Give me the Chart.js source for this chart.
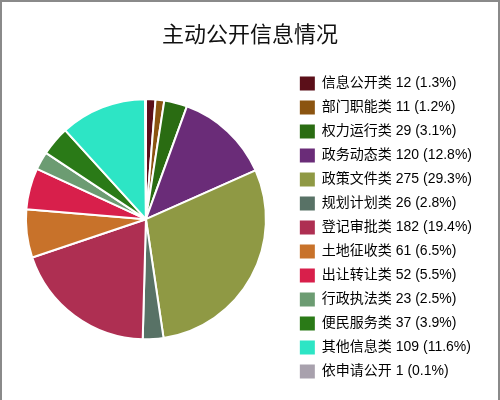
<!DOCTYPE html>
<html>
<head>
<meta charset="utf-8">
<script src="https://cdn.jsdelivr.net/npm/chart.js@4"></script>
<style>
 body { margin: 0; background: #fff; }
 .box { width: 500px; height: 400px; box-sizing: border-box; border: 2px solid #8a8a8a; border-bottom: none; }
 .box canvas { display: block; }
</style>
</head>
<body>
<div class="box"><canvas id="myChart" width="496" height="398"></canvas></div>
<script>
'use strict';

var categories = ["信息公开类", "部门职能类", "权力运行类", "政务动态类", "政策文件类", "规划计划类", "登记审批类",
 "土地征收类", "出让转让类", "行政执法类", "便民服务类", "其他信息类", "依申请公开"];
var values = [12, 11, 29, 120, 275, 26, 182, 61, 52, 23, 37, 109, 1];
var colors = ["#5b0f19", "#8b5410", "#2a6c12", "#6a2c78", "#8f9944", "#587266", "#ae2f52",
 "#c8722a", "#d81f4b", "#6c9c72", "#2a7a17", "#2de5c5", "#a8a1ad"];

(function () {
 var ctx = document.getElementById("myChart");
 var total = values.reduce(function (a, b) { return a + b; }, 0);
 var font = 'Arial, "Liberation Sans", "Noto Sans CJK SC", sans-serif';

 // one column only, empty room right of the legend (title stays centred), legend nudged down
 var legendSpace = {
  id: 'legendSpace',
  beforeLayout: function (chart) {
   var lg = chart.legend;
   if (lg && !lg._patched) {
    var fit = lg.fit;
    lg.fit = function () {
     this.maxHeight += 30;
     fit.call(this);
     this.maxHeight -= 30;
     this.width += 16;
    };
    lg._patched = true;
   }
  },
  afterLayout: function (chart) {
   chart.legend.top += 6;
   chart.legend.bottom += 20;
  }
 };

 new Chart(ctx, {
  type: 'pie',
  data: {
   labels: categories,
   datasets: [{
    data: values,
    backgroundColor: colors,
    borderColor: '#fff',
    borderWidth: 2
   }]
  },
  plugins: [legendSpace],
  options: {
   responsive: false,
   animation: false,
   radius: 120,
   layout: { padding: { top: 0, bottom: 22, left: 0, right: 0 } },
   plugins: {
    tooltip: { enabled: false },
    title: {
     display: true,
     text: '主动公开信息情况',
     color: '#111',
     font: { family: '"Noto Sans CJK SC", sans-serif', size: 22, weight: 'normal' },
     padding: { top: 18, bottom: 14 }
    },
    legend: {
     position: 'right',
     align: 'start',
     fullSize: false,
     labels: {
      boxWidth: 15,
      boxHeight: 14,
      padding: 10,
      color: '#383838',
      font: { family: font, size: 14 },
      generateLabels: function (chart) {
       return categories.map(function (c, i) {
        var pct = (values[i] / total * 100).toFixed(1);
        return {
         text: c + ' ' + values[i] + ' (' + pct + '%)',
         fillStyle: colors[i],
         strokeStyle: colors[i],
         lineWidth: 0,
         index: i
        };
       });
      }
     }
    }
   }
  }
 });
})();
</script>
</body>
</html>
